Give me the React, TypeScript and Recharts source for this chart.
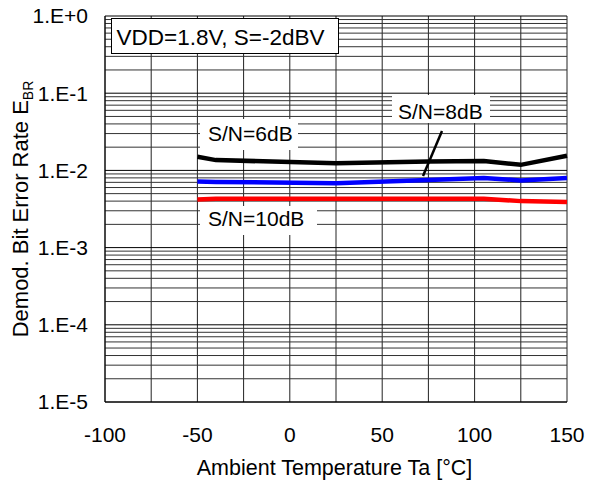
import { LineChart, Line, XAxis, YAxis, CartesianGrid, ReferenceLine } from "recharts";

const temps = [-50, -40, 25, 75, 105, 125, 150];
const sn6 = [0.015, 0.0136, 0.0124, 0.013, 0.0132, 0.0118, 0.0155];
const sn8 = [0.0072, 0.0071, 0.0068, 0.0075, 0.008, 0.0074, 0.008];
const sn10 = [0.0042, 0.0043, 0.0043, 0.0043, 0.0043, 0.004, 0.0039];

const xTicks = [-100, -75, -50, -25, 0, 25, 50, 75, 100, 125, 150];
const yTicks = [1e-5, 1e-4, 1e-3, 1e-2, 1e-1, 1];
const yLabels = ["1.E-5", "1.E-4", "1.E-3", "1.E-2", "1.E-1", "1.E+0"];
const minorSteps = [2, 3, 4, 5, 6, 7, 8, 9];

const data = temps.map((t, i) => ({ t, sn6: sn6[i], sn8: sn8[i], sn10: sn10[i] }));
const gridValues = yTicks.slice(0, -1).flatMap((d) => minorSteps.map((m) => m * d));

const FONT = "'Liberation Sans', Arial, sans-serif";
const W = 596;
const H = 487;

export default function App() {
  return (
    <div style={{ position: "absolute", left: 0, top: 0, width: W, height: H, background: "#fff", fontFamily: FONT }}>
      <LineChart width={W} height={H} data={data} margin={{ top: 16, right: 29, bottom: 0, left: 0 }}>
        <CartesianGrid horizontal={false} stroke="#222" strokeWidth={1} />
        <XAxis
          dataKey="t"
          type="number"
          domain={[-100, 150]}
          ticks={xTicks}
          height={85}
          tickSize={0}
          tickMargin={25}
          axisLine={{ stroke: "#000" }}
          tick={{ fontSize: 21, fill: "#000", fontFamily: FONT }}
          tickFormatter={(v: number) => (v % 50 === 0 ? String(v) : "")}
          interval={0}
        />
        <YAxis
          scale="log"
          domain={[1e-5, 1]}
          ticks={yTicks}
          width={105}
          tickSize={0}
          tickMargin={17}
          axisLine={{ stroke: "#000" }}
          tick={{ fontSize: 21, fill: "#000", fontFamily: FONT }}
          tickFormatter={(v: number) => yLabels[yTicks.findIndex((y) => Math.abs(Math.log10(y) - Math.log10(v)) < 0.01)] ?? ""}
          interval={0}
          allowDataOverflow
        />
        {yTicks.map((v) => (
          <ReferenceLine key={"M" + v} y={v} stroke="#000" strokeWidth={1} />
        ))}
        {gridValues.map((v) => (
          <ReferenceLine key={"m" + v} y={v} stroke="#333" strokeWidth={1} />
        ))}
        <Line dataKey="sn6" stroke="#000" strokeWidth={4.5} dot={false} isAnimationActive={false} />
        <Line dataKey="sn8" stroke="#0000ff" strokeWidth={4.5} dot={false} isAnimationActive={false} />
        <Line dataKey="sn10" stroke="#ff0000" strokeWidth={4.5} dot={false} isAnimationActive={false} />
      </LineChart>
      <svg width={W} height={H} style={{ position: "absolute", left: 0, top: 0, pointerEvents: "none" }}>
        <g fontFamily={FONT} fontSize={21} fill="#000">
          <rect x={111.5} y={18.5} width={227} height={35} fill="#fff" stroke="#000" strokeWidth={1} />
          <text x={116.5} y={45} fontSize={22.5}>VDD=1.8V, S=-2dBV</text>
          <rect x={200} y={119} width={98} height={31} fill="#fff" />
          <text x={208} y={141}>S/N=6dB</text>
          <rect x={392} y={95} width={98} height={28} fill="#fff" />
          <text x={398} y={119}>S/N=8dB</text>
          <rect x={200} y={206} width={117} height={29} fill="#fff" />
          <text x={208} y={225.5}>S/N=10dB</text>
          <line x1={442} y1={131} x2={423} y2={176} stroke="#000" strokeWidth={2.5} />
          <text x={334.5} y={475} textAnchor="middle" fontSize={21.5}>Ambient Temperature Ta [°C]</text>
          <text transform="translate(27.5,209) rotate(-90)" textAnchor="middle" fontSize={22}>
            Demod. Bit Error Rate  E<tspan fontSize={14} dy={5}>BR</tspan>
          </text>
        </g>
      </svg>
    </div>
  );
}
